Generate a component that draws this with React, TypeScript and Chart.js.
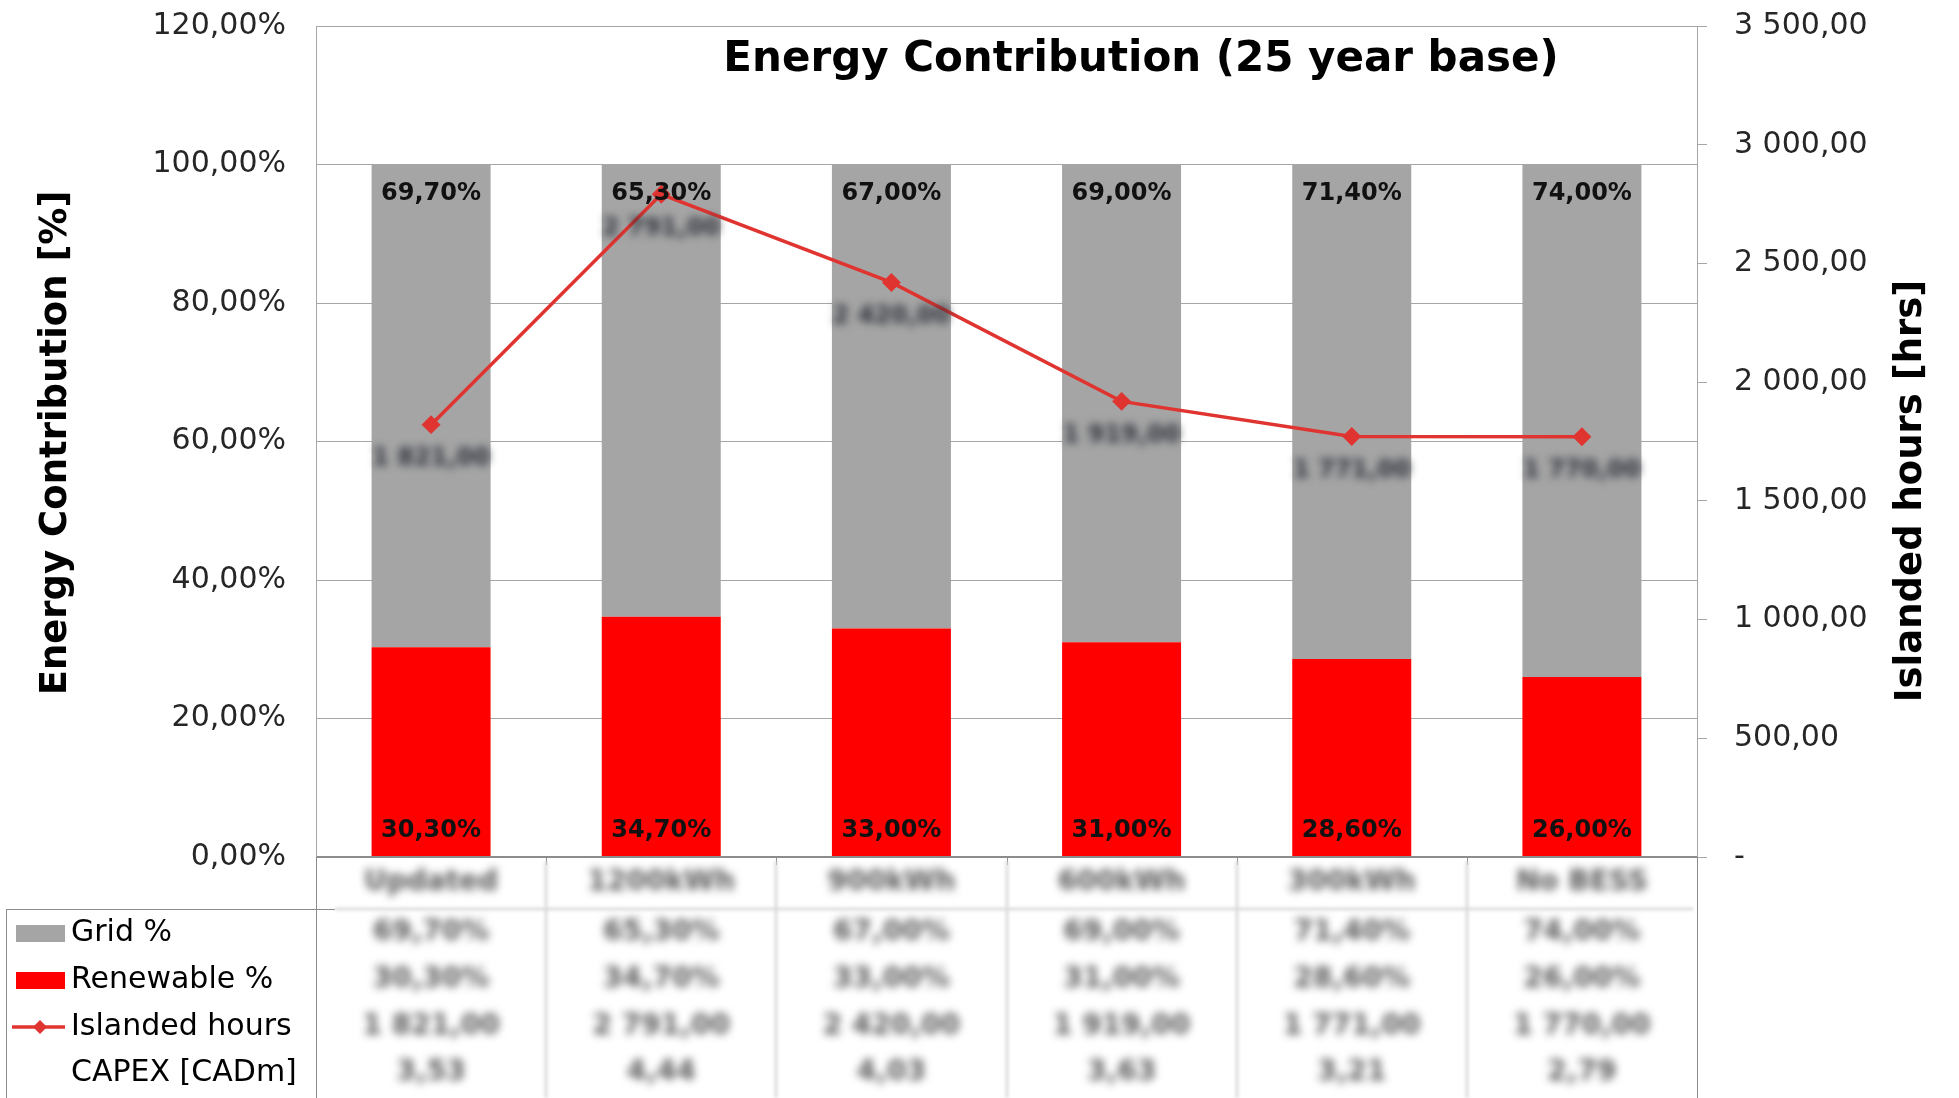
import React, { useEffect, useRef } from 'react';
import { Chart, registerables } from 'chart.js';

Chart.register(...registerables);

const categories = ['Updated', '1200kWh', '900kWh', '600kWh', '300kWh', 'No BESS'];
const gridPct = [69.7, 65.3, 67.0, 69.0, 71.4, 74.0];
const renewablePct = [30.3, 34.7, 33.0, 31.0, 28.6, 26.0];
const islandedHours = [1821, 2791, 2420, 1919, 1771, 1770];
const capex = [3.53, 4.44, 4.03, 3.63, 3.21, 2.79];
const legendLabels = ['Grid %', 'Renewable %', 'Islanded hours', 'CAPEX [CADm]'];

const FONT = '"DejaVu Sans", sans-serif';
const GRAY = '#a5a5a5';
const RED = '#ff0000';
const LINE_RED = '#df3430';
const AXIS_GRAY = '#a6a6a6';

// Chart.js reserves ~47px above the plot for tick labels; the canvas is
// shifted up so the plot top lands where the reference has it.
const SHIFT = 22;
const CANVAS_W = 1959;
const CANVAS_H = 1098 + SHIFT;

function fmtPct(v: number): string {
  return v.toFixed(2).replace('.', ',') + '%';
}
function fmtNum(v: number): string {
  if (v === 0) return '-';
  const [i, d] = v.toFixed(2).split('.');
  return i.replace(/\B(?=(\d{3})+(?!\d))/g, ' ') + ',' + d;
}

const overlayPlugin = {
  id: 'overlay',
  afterDatasetsDraw(chart: any) {
    const ctx = chart.ctx;
    const renMeta = chart.getDatasetMeta(0);
    const gridMeta = chart.getDatasetMeta(1);
    const lineMeta = chart.getDatasetMeta(2);
    ctx.save();
    ctx.font = `bold 24px ${FONT}`;
    ctx.fillStyle = '#111';
    ctx.textAlign = 'center';
    ctx.textBaseline = 'middle';
    renMeta.data.forEach((el: any, i: number) => {
      ctx.fillText(fmtPct(renewablePct[i]), el.x, el.base - 25);
    });
    gridMeta.data.forEach((el: any, i: number) => {
      ctx.fillText(fmtPct(gridPct[i]), el.x, el.y + 29);
    });
    ctx.filter = 'blur(4px)';
    ctx.fillStyle = '#2c303a';
    lineMeta.data.forEach((el: any, i: number) => {
      ctx.fillText(fmtNum(islandedHours[i]), el.x, el.y + 34);
    });
    ctx.restore();
  },
  afterDraw(chart: any) {
    const ctx = chart.ctx;
    const { left, right, top, bottom } = chart.chartArea;
    const H = chart.height;
    const colW = (right - left) / categories.length;
    const xMeta = chart.getDatasetMeta(0);
    ctx.save();

    // Title
    ctx.font = `bold 42px ${FONT}`;
    ctx.fillStyle = '#000';
    ctx.textAlign = 'center';
    ctx.textBaseline = 'middle';
    ctx.fillText('Energy Contribution (25 year base)', 1141, top + 34);

    // Axis titles
    ctx.font = `bold 37px ${FONT}`;
    ctx.save();
    ctx.translate(56, top + 417);
    ctx.rotate(-Math.PI / 2);
    ctx.fillText('Energy Contribution [%]', 0, 0);
    ctx.restore();
    ctx.save();
    ctx.translate(1911, top + 465);
    ctx.rotate(-Math.PI / 2);
    ctx.fillText('Islanded hours [hrs]', 0, 0);
    ctx.restore();

    // Table lines
    const rowTop = bottom + 52;
    ctx.lineWidth = 1;
    ctx.strokeStyle = '#8c8c8c';
    ctx.beginPath();
    ctx.moveTo(left + 0.5, bottom);
    ctx.lineTo(left + 0.5, H);
    ctx.moveTo(right + 0.5, bottom);
    ctx.lineTo(right + 0.5, H);
    ctx.moveTo(6.5, rowTop);
    ctx.lineTo(6.5, H);
    ctx.moveTo(6, rowTop + 0.5);
    ctx.lineTo(335, rowTop + 0.5);
    for (let k = 1; k < categories.length; k++) {
      const x = Math.round(left + k * colW) + 0.5;
      ctx.moveTo(x, bottom);
      ctx.lineTo(x, bottom + 8);
    }
    ctx.stroke();

    // faint blurred separators
    ctx.save();
    ctx.filter = 'blur(1.5px)';
    ctx.strokeStyle = '#dcdcdc';
    ctx.lineWidth = 3;
    ctx.beginPath();
    for (let k = 1; k < categories.length; k++) {
      const x = Math.round(left + k * colW);
      ctx.moveTo(x, bottom + 4);
      ctx.lineTo(x, H);
    }
    ctx.moveTo(335, rowTop);
    ctx.lineTo(right - 4, rowTop);
    ctx.stroke();
    ctx.restore();

    // Blurred table text
    const rowsY = [bottom + 76, bottom + 123, bottom + 170, bottom + 216];
    ctx.save();
    ctx.filter = 'blur(4px)';
    ctx.fillStyle = '#5a5a5a';
    ctx.font = `bold 28px ${FONT}`;
    ctx.textAlign = 'center';
    ctx.textBaseline = 'middle';
    xMeta.data.forEach((el: any, i: number) => {
      ctx.fillText(categories[i], el.x, bottom + 26);
      ctx.fillText(fmtPct(gridPct[i]), el.x, rowsY[0]);
      ctx.fillText(fmtPct(renewablePct[i]), el.x, rowsY[1]);
      ctx.fillText(fmtNum(islandedHours[i]), el.x, rowsY[2]);
      ctx.fillText(capex[i].toFixed(2).replace('.', ','), el.x, rowsY[3]);
    });
    ctx.restore();

    // Legend
    ctx.fillStyle = GRAY;
    ctx.fillRect(16, rowsY[0] - 8, 49, 17);
    ctx.fillStyle = RED;
    ctx.fillRect(16, rowsY[1] - 8, 49, 17);
    ctx.strokeStyle = LINE_RED;
    ctx.lineWidth = 3.5;
    ctx.beginPath();
    ctx.moveTo(12, rowsY[2]);
    ctx.lineTo(65, rowsY[2]);
    ctx.stroke();
    ctx.fillStyle = LINE_RED;
    ctx.beginPath();
    ctx.moveTo(40, rowsY[2] - 7);
    ctx.lineTo(47, rowsY[2]);
    ctx.lineTo(40, rowsY[2] + 7);
    ctx.lineTo(33, rowsY[2]);
    ctx.closePath();
    ctx.fill();
    ctx.fillStyle = '#000';
    ctx.font = `30px ${FONT}`;
    ctx.textAlign = 'left';
    ctx.textBaseline = 'middle';
    legendLabels.forEach((t, i) => ctx.fillText(t, 71, rowsY[i]));
    ctx.restore();
  },
};

export default function App() {
  const ref = useRef<HTMLCanvasElement | null>(null);
  useEffect(() => {
    document.body.style.margin = '0';
    document.body.style.overflow = 'hidden';
    const canvas = ref.current;
    if (!canvas) return;
    const chart = new Chart(canvas, {
      type: 'bar',
      data: {
        labels: categories,
        datasets: [
          {
            type: 'bar',
            label: 'Renewable %',
            data: renewablePct,
            backgroundColor: RED,
            yAxisID: 'y',
            stack: 's',
            order: 1,
            barPercentage: 0.517,
            categoryPercentage: 1,
          },
          {
            type: 'bar',
            label: 'Grid %',
            data: gridPct,
            backgroundColor: GRAY,
            yAxisID: 'y',
            stack: 's',
            order: 1,
            barPercentage: 0.517,
            categoryPercentage: 1,
          },
          {
            type: 'line',
            label: 'Islanded hours',
            data: islandedHours,
            yAxisID: 'y1',
            borderColor: LINE_RED,
            backgroundColor: LINE_RED,
            borderWidth: 3.5,
            pointStyle: 'rectRot',
            pointRadius: 7,
            pointHoverRadius: 7,
            tension: 0,
            order: 0,
          } as any,
        ],
      },
      options: {
        responsive: false,
        animation: false,
        devicePixelRatio: 1,
        layout: { padding: { top: 25 + SHIFT, bottom: 241, left: 0, right: 0 } },
        plugins: {
          legend: { display: false },
          tooltip: { enabled: false },
          title: { display: false },
        },
        scales: {
          x: { display: false, stacked: true, offset: true },
          y: {
            position: 'left',
            stacked: true,
            min: 0,
            max: 120,
            ticks: {
              stepSize: 20,
              padding: 30,
              color: '#262626',
              font: { family: FONT, size: 30 },
              callback: (v: any) => fmtPct(Number(v)),
            },
            grid: {
              drawTicks: false,
              color: (c: any) => (c.tick && c.tick.value === 0 ? '#8c8c8c' : AXIS_GRAY),
              lineWidth: (c: any) => (c.tick && c.tick.value === 0 ? 2 : 1),
            },
            border: { display: true, color: AXIS_GRAY },
            afterFit: (s: any) => {
              s.width = 316;
            },
          },
          y1: {
            position: 'right',
            min: 0,
            max: 3500,
            ticks: {
              stepSize: 500,
              padding: 27,
              color: '#262626',
              font: { family: FONT, size: 30 },
              callback: (v: any) => fmtNum(Number(v)),
            },
            grid: { drawOnChartArea: false, drawTicks: true, tickLength: 10, color: AXIS_GRAY },
            border: { display: true, color: AXIS_GRAY },
            afterFit: (s: any) => {
              s.width = 262;
            },
          },
        } as any,
      },
      plugins: [overlayPlugin],
    });
    return () => chart.destroy();
  }, []);
  return (
    <canvas
      ref={ref}
      width={CANVAS_W}
      height={CANVAS_H}
      style={{ display: 'block', marginTop: -SHIFT }}
    />
  );
}
